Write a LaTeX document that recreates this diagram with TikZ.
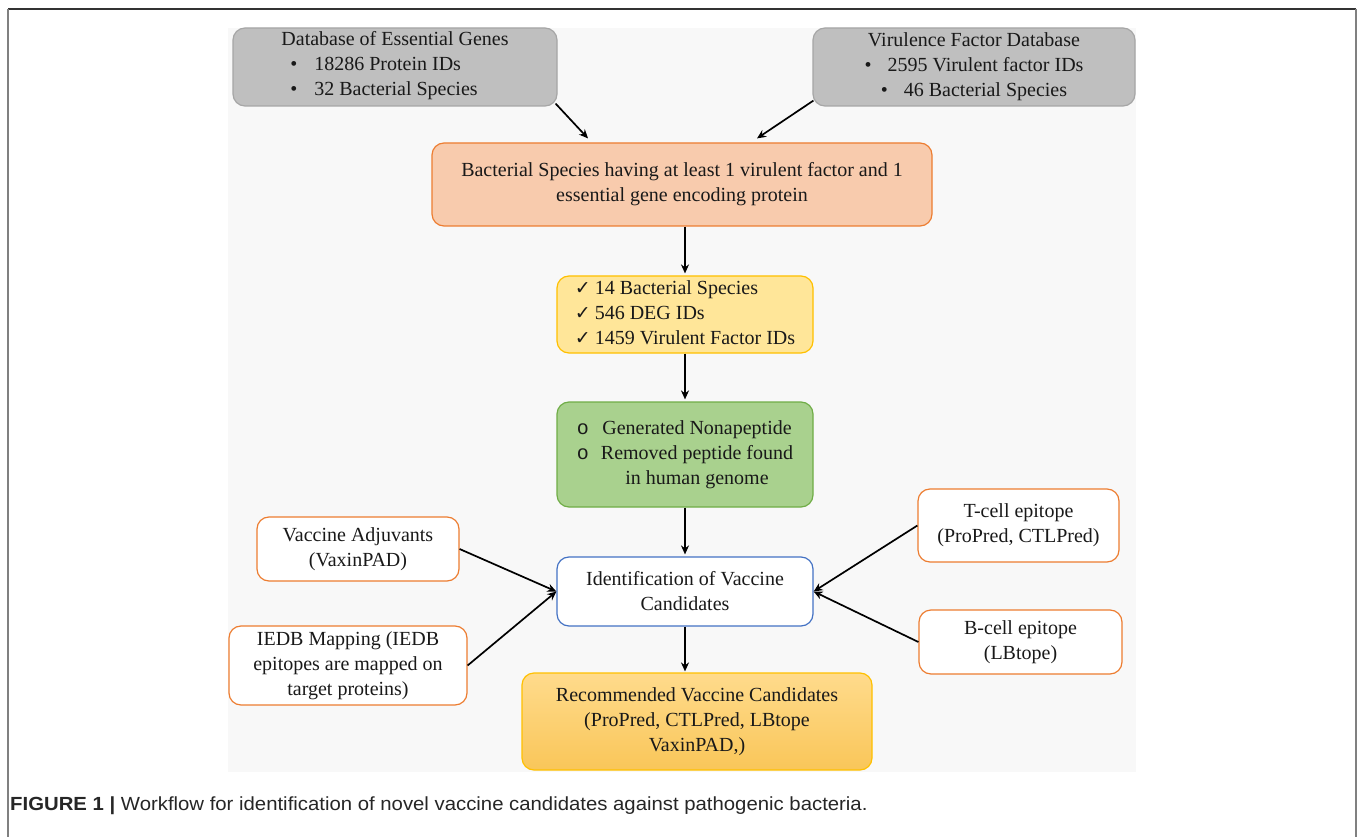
\documentclass[tikz,border=0pt]{standalone}
\usepackage{fontspec}
\setmainfont{Liberation Serif}
\newfontfamily\capfont[FakeStretch=1.07]{Liberation Sans}
\newfontfamily\symfont{DejaVu Sans}
\newfontfamily\bulmono{Liberation Mono}
\usetikzlibrary{arrows.meta,calc}
\definecolor{grayfill}{HTML}{BFBFBF}
\definecolor{graydraw}{HTML}{A6A6A6}
\definecolor{orfill}{HTML}{F8CBAD}
\definecolor{ordraw}{HTML}{ED7D31}
\definecolor{yefill}{HTML}{FFE699}
\definecolor{yedraw}{HTML}{FFC000}
\definecolor{grfill}{HTML}{A9D18E}
\definecolor{grdraw}{HTML}{70AD47}
\definecolor{bldraw}{HTML}{4472C4}
\definecolor{rectop}{HTML}{FFDB8C}
\definecolor{recbot}{HTML}{F9C659}
\definecolor{panel}{HTML}{F8F8F8}
\newcommand{\chk}{\makebox[14pt][l]{\symfont\fontsize{19}{25}\selectfont ✓}}
\begin{document}
\begin{tikzpicture}[x=1pt,y=-1pt,
  box/.style={draw, rounded corners=12pt, line width=1.2pt, inner sep=0pt, align=center,
    font=\fontsize{20}{25}\selectfont, text=black!90},
  graybox/.style={box, fill=grayfill, draw=graydraw},
  sidebox/.style={box, fill=white, draw=ordraw},
  arr/.style={-{Stealth[length=9pt,width=8pt]}, line width=1.7pt, black}
]
\useasboundingbox (0,0) rectangle (1358,837);
\fill[white] (0,0) rectangle (1358,837);
% frame
\draw[line width=1.5pt, black!80] (8,9) -- (1356,9);
\draw[line width=1.5pt, black!50] (8,9) -- (8,837);
\draw[line width=1.5pt, black!50] (1356,9) -- (1356,837);
% panel
\fill[panel] (228,28) rectangle (1136,772);

\node[graybox, minimum width=324, minimum height=78] (deg) at (395,67)
  {Database of Essential Genes\\\begin{tabular}[t]{@{}l@{\hspace{17pt}}l@{}}•&18286 Protein IDs\\•&32 Bacterial Species\end{tabular}\hspace*{22pt}\mbox{}};
\node[graybox, minimum width=322, minimum height=78] (vfd) at (974,67)
  {Virulence Factor Database\\•\hspace{16pt}2595 Virulent factor IDs\\•\hspace{16pt}46 Bacterial Species};
\node[box, fill=orfill, draw=ordraw, minimum width=500, minimum height=83] (bact) at (682,184.5)
  {Bacterial Species having at least 1 virulent factor and 1\\essential gene encoding protein};
\node[box, fill=yefill, draw=yedraw, minimum width=256, minimum height=77] (ids) at (685,314.5)
  {\begin{tabular}{@{}l@{\hspace{6pt}}l@{}}\chk&14 Bacterial Species\\\chk&546 DEG IDs\\\chk&1459 Virulent Factor IDs\end{tabular}};
\node[box, fill=grfill, draw=grdraw, minimum width=256, minimum height=105] (pep) at (685,454.5)
  {\begin{tabular}{@{}c@{\hspace{12pt}}c@{}}{\bulmono o}&Generated Nonapeptide\\{\bulmono o}&Removed peptide found\\&in human genome\end{tabular}};
\node[box, fill=white, draw=bldraw, minimum width=256, minimum height=69] (ident) at (685,591.5)
  {Identification of Vaccine\\Candidates};
\node[box, top color=rectop, bottom color=recbot, draw=yedraw, minimum width=350, minimum height=97] (rec) at (697,721.5)
  {Recommended Vaccine Candidates\\(ProPred, CTLPred, LBtope\\VaxinPAD,)};
\node[sidebox, minimum width=202, minimum height=64] (vadj) at (358,549)
  {Vaccine Adjuvants\\(VaxinPAD)};
\node[sidebox, minimum width=238, minimum height=79] (iedb) at (348,665.5)
  {IEDB Mapping (IEDB\\epitopes are mapped on\\target proteins)};
\node[sidebox, minimum width=201, minimum height=73] (tcell) at (1018.5,525.5)
  {T-cell epitope\\(ProPred, CTLPred)};
\node[sidebox, minimum width=203, minimum height=64] (bcell) at (1020.5,642)
  {B-cell epitope\\(LBtope)};

% connectors
\draw[arr] ($(deg.south east)+(-2,-3)$) -- ($(bact.north)+(-94,-4)$);
\draw[arr] ($(vfd.south west)+(1,-6)$) -- ($(bact.north)+(75,-4)$);
\draw[arr] (bact.south -| ids.north) -- ($(ids.north)+(0,-2)$);
\draw[arr] (ids.south) -- ($(pep.north)+(0,-2)$);
\draw[arr] (pep.south) -- ($(ident.north)+(0,-2)$);
\draw[arr] (ident.south) -- ($(rec.north -| ident.south)+(0,-1)$);
\draw[arr] (vadj.east) -- (ident.west);
\draw[arr] (iedb.east) -- (ident.west);
\draw[arr] (tcell.west) -- (ident.east);
\draw[arr] (bcell.west) -- (ident.east);

% caption
\node[anchor=west, inner sep=0pt, font=\capfont\fontsize{19}{22}\selectfont, text=black!85] (cap) at (10,806)
  {\textbf{FIGURE 1} \textbf{|} Workflow for identification of novel vaccine candidates against pathogenic bacteria.};
\end{tikzpicture}
\end{document}
